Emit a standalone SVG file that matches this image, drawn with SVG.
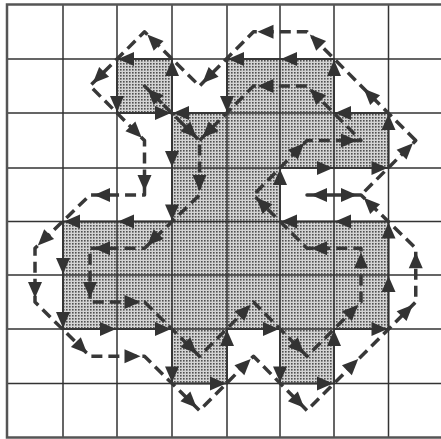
<svg xmlns="http://www.w3.org/2000/svg" width="441" height="439" viewBox="0 0 441 439">
<style>
.grid{fill:none;stroke:#333;stroke-width:1.5}
.border{fill:none;stroke:#555;stroke-width:2.5}
.region{fill:url(#dots);stroke:#444;stroke-width:2}
.trace{fill:none;stroke:#383838;stroke-width:3.5;stroke-dasharray:11 6;stroke-linejoin:round}
.head{fill:#333}
</style>
<defs>
<pattern id="dots" width="3" height="3" patternUnits="userSpaceOnUse">
<rect width="3" height="3" fill="#d4d4d4"/>
<rect width="1.6" height="1.6" fill="#505050"/>
</pattern>
<path id="h" d="M0,0 L-16,-7 L-16,7 Z"/>
</defs>
<rect width="441" height="439" fill="#fff"/>
<g id="shaded-region">
<path class="region" d="M334,59 H227 V113 H172 V59 H117 V113 H172 V221.5 H63 V329 H172 V383.5 H227 V329 H280 V383.5 H334 V329 H388.5 V221.5 H280 V168 H388.5 V113 H334 Z"/>
</g>
<g id="grid">
<path class="grid" d="M63,4.5 V437.5 M117,4.5 V437.5 M172,4.5 V437.5 M227,4.5 V437.5 M280,4.5 V437.5 M334,4.5 V437.5 M388.5,4.5 V437.5 M7,59 H443 M7,113 H443 M7,168 H443 M7,221.5 H443 M7,275 H443 M7,329 H443 M7,383.5 H443"/>
<rect class="border" x="7" y="4.5" width="436" height="433"/>
</g>
<g id="connectors">
<g id="outer-trace">
<path class="trace" d="M415.75,140.5 L307,31.75 L253.5,31.75 L199.5,86 L144.5,31.75 L90,86 L144.5,140.5 L144.5,195 L90,195 L35,248.25 L35,302 L90,356.25 L144.5,356.25 L199.5,410.5 L253.5,356.25 L307,410.5 L415.75,302 L415.75,248.25 L361,195 L307,195 L361,195 Z"/>
<g class="head">
<use href="#h" transform="translate(363.8,88.8) rotate(-135)"/>
<use href="#h" transform="translate(309.8,34.6) rotate(-135)"/>
<use href="#h" transform="translate(257.5,31.75) rotate(180)"/>
<use href="#h" transform="translate(202.3,83.2) rotate(135)"/>
<use href="#h" transform="translate(147.3,34.6) rotate(-135)"/>
<use href="#h" transform="translate(92.8,83.2) rotate(135)"/>
<use href="#h" transform="translate(141.7,137.7) rotate(45)"/>
<use href="#h" transform="translate(144.5,191) rotate(90)"/>
<use href="#h" transform="translate(94,195) rotate(180)"/>
<use href="#h" transform="translate(37.8,245.4) rotate(135)"/>
<use href="#h" transform="translate(35,298) rotate(90)"/>
<use href="#h" transform="translate(87.2,353.4) rotate(45)"/>
<use href="#h" transform="translate(140.5,356.25) rotate(0)"/>
<use href="#h" transform="translate(196.7,407.7) rotate(45)"/>
<use href="#h" transform="translate(250.7,359) rotate(-45)"/>
<use href="#h" transform="translate(304.2,407.7) rotate(45)"/>
<use href="#h" transform="translate(358.2,359) rotate(-45)"/>
<use href="#h" transform="translate(412.9,304.8) rotate(-45)"/>
<use href="#h" transform="translate(415.75,252.3) rotate(-90)"/>
<use href="#h" transform="translate(363.8,197.8) rotate(-135)"/>
<use href="#h" transform="translate(311,195) rotate(180)"/>
<use href="#h" transform="translate(357,195) rotate(0)"/>
<use href="#h" transform="translate(412.9,143.3) rotate(-45)"/>
</g>
</g>
<g id="inner-trace">
<path class="trace" d="M144.5,302 L199.5,356.25 L253.5,302 L307,356.25 L361,302 L361,248.25 L307,248.25 L253.5,195 L307,140.5 L361,140.5 L307,86 L253.5,86 L199.5,140.5 L144.5,86 L199.5,140.5 L199.5,195 L144.5,248.25 L90,248.25 L90,302 Z"/>
<g class="head">
<use href="#h" transform="translate(196.7,353.4) rotate(45)"/>
<use href="#h" transform="translate(250.7,304.8) rotate(-45)"/>
<use href="#h" transform="translate(304.2,353.4) rotate(45)"/>
<use href="#h" transform="translate(358.2,304.8) rotate(-45)"/>
<use href="#h" transform="translate(361,252.3) rotate(-90)"/>
<use href="#h" transform="translate(311,248.25) rotate(180)"/>
<use href="#h" transform="translate(256.3,197.8) rotate(-135)"/>
<use href="#h" transform="translate(304.2,143.3) rotate(-45)"/>
<use href="#h" transform="translate(357,140.5) rotate(0)"/>
<use href="#h" transform="translate(309.8,88.8) rotate(-135)"/>
<use href="#h" transform="translate(257.5,86) rotate(180)"/>
<use href="#h" transform="translate(202.3,137.7) rotate(135)"/>
<use href="#h" transform="translate(147.3,88.8) rotate(-135)"/>
<use href="#h" transform="translate(196.7,137.7) rotate(45)"/>
<use href="#h" transform="translate(199.5,191) rotate(90)"/>
<use href="#h" transform="translate(147.3,245.4) rotate(135)"/>
<use href="#h" transform="translate(94,248.25) rotate(180)"/>
<use href="#h" transform="translate(90,298) rotate(90)"/>
<use href="#h" transform="translate(140.5,302) rotate(0)"/>
</g>
</g>
<g id="boundary-arrows" class="head">
<use href="#h" transform="translate(281,59) rotate(180)"/>
<use href="#h" transform="translate(228,59) rotate(180)"/>
<use href="#h" transform="translate(227,112) rotate(90)"/>
<use href="#h" transform="translate(173,113) rotate(180)"/>
<use href="#h" transform="translate(172,60) rotate(-90)"/>
<use href="#h" transform="translate(118,59) rotate(180)"/>
<use href="#h" transform="translate(117,112) rotate(90)"/>
<use href="#h" transform="translate(171,113) rotate(0)"/>
<use href="#h" transform="translate(172,167) rotate(90)"/>
<use href="#h" transform="translate(172,220.5) rotate(90)"/>
<use href="#h" transform="translate(118,221.5) rotate(180)"/>
<use href="#h" transform="translate(64,221.5) rotate(180)"/>
<use href="#h" transform="translate(63,274) rotate(90)"/>
<use href="#h" transform="translate(63,328) rotate(90)"/>
<use href="#h" transform="translate(116,329) rotate(0)"/>
<use href="#h" transform="translate(171,329) rotate(0)"/>
<use href="#h" transform="translate(172,382.5) rotate(90)"/>
<use href="#h" transform="translate(226,383.5) rotate(0)"/>
<use href="#h" transform="translate(227,330) rotate(-90)"/>
<use href="#h" transform="translate(279,329) rotate(0)"/>
<use href="#h" transform="translate(280,382.5) rotate(90)"/>
<use href="#h" transform="translate(333,383.5) rotate(0)"/>
<use href="#h" transform="translate(334,330) rotate(-90)"/>
<use href="#h" transform="translate(387.5,329) rotate(0)"/>
<use href="#h" transform="translate(388.5,276) rotate(-90)"/>
<use href="#h" transform="translate(388.5,222.5) rotate(-90)"/>
<use href="#h" transform="translate(335,221.5) rotate(180)"/>
<use href="#h" transform="translate(281,221.5) rotate(180)"/>
<use href="#h" transform="translate(280,169) rotate(-90)"/>
<use href="#h" transform="translate(333,168) rotate(0)"/>
<use href="#h" transform="translate(387.5,168) rotate(0)"/>
<use href="#h" transform="translate(388.5,114) rotate(-90)"/>
<use href="#h" transform="translate(335,113) rotate(180)"/>
<use href="#h" transform="translate(334,60) rotate(-90)"/>
</g>
</g>
</svg>
